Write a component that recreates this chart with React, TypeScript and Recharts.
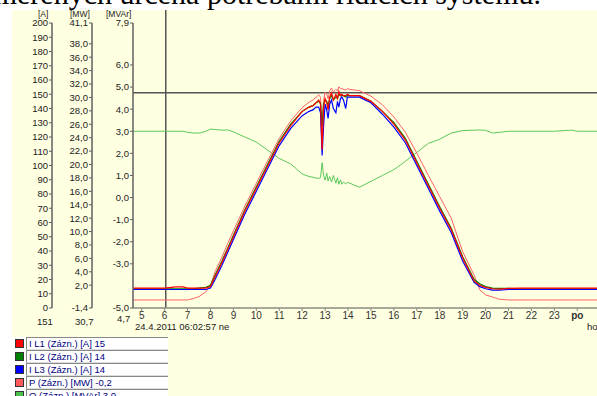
import { LineChart, Line, XAxis, YAxis, ReferenceLine } from 'recharts';

// hodiny (x) a zaznamenane hodnoty
const hours = [4.62, 5, 5.5, 6, 6.5, 6.8, 7, 7.25, 7.5, 7.8, 8, 8.2, 8.5, 8.75, 9, 9.5, 10, 10.5, 11, 11.5, 12, 12.3, 12.47, 12.6, 12.72, 12.8, 12.87, 12.93, 13, 13.07, 13.13, 13.2, 13.28, 13.36, 13.47, 13.54, 13.6, 13.67, 13.73, 13.8, 13.9, 13.97, 14.08, 14.3, 14.5, 15, 15.5, 16, 16.5, 17, 17.5, 18, 18.5, 19, 19.5, 19.75, 20, 20.3, 20.6, 21, 21.5, 22, 23, 23.75, 24, 24.86];
const iL1 = [14, 14, 14, 14, 14.8, 14.8, 14, 14, 14, 14, 15, 22, 32, 41, 50, 68, 84, 100, 116, 128, 138, 141, 142, 144, 146, 143, 111, 140, 147, 144, 139, 148, 151, 146, 150, 147, 152, 149, 150, 149, 149, 150, 149, 149, 149, 145, 138, 129, 118, 102, 86, 70, 55, 35, 19, 16, 14.5, 13.5, 13.3, 13.8, 14, 14, 14, 14, 14, 14];
const iL2 = [13.5, 13.5, 13.5, 13.5, 13.5, 13.5, 13.5, 13.5, 14, 14.5, 16, 23, 33, 42, 51, 69, 85, 101, 117, 129, 138, 141, 142, 144, 145, 144, 128, 143, 146, 145, 142, 147, 149, 146, 148, 147, 150, 149, 149, 149, 148, 149, 149, 149, 149, 145, 138, 130, 119, 103, 87, 71, 56, 36, 20, 17, 15, 14, 13.8, 13.8, 13.5, 13.5, 13.5, 13.5, 13.5, 13.5];
const iL3 = [13, 13, 13, 13, 13, 13, 13, 13, 13, 13, 14, 20, 30, 39, 48, 66, 82, 98, 114, 126, 135, 138, 139, 141, 141, 137, 107, 127, 143, 139, 133, 143, 146, 140, 137, 145, 141, 147, 148, 146, 140, 148, 148, 148, 148, 144, 136, 127, 116, 100, 84, 68, 53, 33, 18, 15, 13.5, 12.5, 12.5, 13, 13, 13, 13, 13, 13, 13];
const pMW = [-0.2, -0.2, -0.2, -0.2, -0.2, -0.2, -0.2, 0, 0.3, 1, 2, 4, 6.2, 8.2, 10.1, 13.8, 17.2, 20.6, 23.9, 26.5, 28.5, 29.3, 29.6, 30, 30.4, 30, 22.2, 29.5, 30.8, 30.5, 29.8, 31, 31.4, 30.8, 31.2, 31, 31.6, 31.3, 31.3, 31.2, 31.1, 31.3, 31.2, 31.1, 31, 30.2, 28.9, 27.1, 24.8, 21.7, 18.4, 15.2, 12, 7, 3.5, 1.3, 0.55, 0.25, -0.1, -0.2, -0.2, -0.2, -0.2, -0.2, -0.2, -0.2];
const qMVAr = [3, 3, 3, 3, 3, 3, 2.95, 2.92, 2.92, 3, 3.1, 3.08, 3.05, 3.06, 2.97, 2.74, 2.51, 2.14, 1.77, 1.52, 1.07, 0.95, 0.92, 0.88, 0.87, 0.9, 1.58, 1, 0.79, 1.11, 0.75, 0.95, 0.7, 1, 0.65, 0.9, 0.6, 0.8, 0.6, 0.7, 0.62, 0.68, 0.65, 0.55, 0.47, 0.73, 1, 1.26, 1.64, 2.04, 2.45, 2.64, 2.92, 3.03, 3.05, 3.06, 3.04, 2.92, 2.95, 3, 3, 3, 3, 3.05, 3, 3];

const hourTicks = [5, 6, 7, 8, 9, 10, 11, 12, 13, 14, 15, 16, 17, 18, 19, 20, 21, 22, 23, 24];
const aTicks = [0, 10, 20, 30, 40, 50, 60, 70, 80, 90, 100, 110, 120, 130, 140, 150, 160, 170, 180, 190, 200];
const mwTicks = [-1.4, 2, 4, 6, 8, 10, 12, 14, 16, 18, 20, 22, 24, 26, 28, 30, 32, 34, 36, 38, 41.1];
const mvarTicks = [-5, -3, -2, -1, 0, 1, 2, 3, 4, 5, 6, 7.9];

const cursorHour = 6.049;
const cursorA = 151;

const legendItems = [
  { color: '#ff0000', text: 'I L1 (Zázn.) [A] 15' },
  { color: '#008000', text: 'I L2 (Zázn.) [A] 14' },
  { color: '#0000ff', text: 'I L3 (Zázn.) [A] 14' },
  { color: '#ff5a5a', text: 'P (Zázn.) [MW] -0,2' },
  { color: '#4cc04c', text: 'Q (Zázn.) [MVAr] 3,0' },
];

const data = hours.map((h, i) => ({
  h,
  l1: iL1[i],
  l2: iL2[i],
  l3: iL3[i],
  p: pMW[i],
  q: qMVAr[i],
}));

// osy se skladaji podle id: ax1 u grafu, ax3 nejdal
const AX_MVAR = 'ax1';
const AX_MW = 'ax2';
const AX_A = 'ax3';

const comma = (v: number) => v.toFixed(1).replace('.', ',');
const axisColor = '#606060';
const tickFont = { fontSize: 9.5, fill: '#222', fontFamily: 'Arial, "Liberation Sans"' };

const HourTick = ({ x, y, payload }: any) => {
  const po = payload.value === 24;
  return (
    <text x={x} y={y + 6} textAnchor="middle" fontSize={10} fontFamily='Arial, "Liberation Sans"' fill="#333" fontWeight={po ? 'bold' : 'normal'}>
      {po ? 'po' : payload.value}
    </text>
  );
};

const small: React.CSSProperties = { position: 'absolute', fontSize: 9.5, lineHeight: '10px', fontFamily: 'Arial, "Liberation Sans"', color: '#222', whiteSpace: 'nowrap' };

export default function App() {
  return (
    <div style={{ position: 'fixed', left: 0, top: 0, width: 597, height: 396, overflow: 'hidden', background: '#fff' }}>
      <div style={{ position: 'absolute', left: 12, top: 10, right: 0, bottom: 0, background: '#ffffe1' }} />
      <div
        style={{
          position: 'absolute',
          right: 56,
          top: -21,
          fontSize: 30,
          lineHeight: '30px',
          fontFamily: '"Liberation Serif", "Times New Roman", serif',
          whiteSpace: 'nowrap',
          color: '#000',
        }}
      >
        měřených určená potřebami řídicích systému.
      </div>

      <div style={{ ...small, fontSize: 8.5, lineHeight: '9px', left: 38, top: 10 }}>[A]</div>
      <div style={{ ...small, fontSize: 8.5, lineHeight: '9px', left: 70, top: 10 }}>[MW]</div>
      <div style={{ ...small, fontSize: 8.5, lineHeight: '9px', left: 106, top: 10 }}>[MVAr]</div>

      <div style={{ position: 'absolute', left: 0, top: 0 }}>
        <LineChart width={597} height={328} data={data} margin={{ top: 23, right: 0, left: 12, bottom: 0 }}>
          <XAxis
            dataKey="h"
            type="number"
            domain={[4.62, 24.86]}
            ticks={hourTicks}
            interval={0}
            allowDataOverflow
            height={20}
            tickSize={3}
            tick={<HourTick />}
            axisLine={{ stroke: '#8c8c80', strokeWidth: 1.5 }}
            tickLine={{ stroke: '#8c8c80' }}
          />
          <YAxis
            yAxisId={AX_MVAR}
            domain={[-5, 7.9]}
            ticks={mvarTicks}
            interval={0}
            width={41}
            tickSize={3}
            tickMargin={1}
            tickFormatter={comma}
            tick={tickFont}
            axisLine={{ stroke: axisColor, strokeWidth: 1.5 }}
            tickLine={{ stroke: axisColor }}
          />
          <YAxis
            yAxisId={AX_MW}
            domain={[-1.4, 41.1]}
            ticks={mwTicks}
            interval={0}
            width={40}
            tickSize={3}
            tickMargin={1}
            tickFormatter={comma}
            tick={tickFont}
            axisLine={{ stroke: axisColor, strokeWidth: 1.5 }}
            tickLine={{ stroke: axisColor }}
          />
          <YAxis
            yAxisId={AX_A}
            domain={[0, 200]}
            ticks={aTicks}
            interval={0}
            width={40}
            tickSize={3}
            tickMargin={1}
            tick={tickFont}
            axisLine={{ stroke: axisColor, strokeWidth: 1.5 }}
            tickLine={{ stroke: axisColor }}
          />
          <ReferenceLine yAxisId={AX_A} y={cursorA} stroke="#555" strokeWidth={1.5} />
          <ReferenceLine
            yAxisId={AX_MVAR}
            segment={[{ x: cursorHour, y: -5 }, { x: cursorHour, y: 8.49 }]}
            ifOverflow="visible"
            stroke="#555"
            strokeWidth={1.5}
          />
          <Line yAxisId={AX_MVAR} dataKey="q" stroke="#5cc85c" strokeWidth={1} dot={false} isAnimationActive={false} />
          <Line yAxisId={AX_MW} dataKey="p" stroke="#ff6464" strokeWidth={1} dot={false} isAnimationActive={false} />
          <Line yAxisId={AX_A} dataKey="l2" stroke="#008000" strokeWidth={1.2} dot={false} isAnimationActive={false} />
          <Line yAxisId={AX_A} dataKey="l3" stroke="#0000ff" strokeWidth={1.2} dot={false} isAnimationActive={false} />
          <Line yAxisId={AX_A} dataKey="l1" stroke="#ff0000" strokeWidth={1.2} dot={false} isAnimationActive={false} />
        </LineChart>
      </div>

      <div style={{ ...small, left: 37, top: 317 }}>151</div>
      <div style={{ ...small, left: 75, top: 317 }}>30,7</div>
      <div style={{ ...small, left: 117, top: 314 }}>4,7</div>
      <div style={{ ...small, left: 135, top: 322 }}>24.4.2011 06:02:57 ne</div>
      <div style={{ ...small, left: 587, top: 322 }}>ho</div>

      <div style={{ position: 'absolute', left: 0, top: 337, width: 167, bottom: 0, background: '#fff' }}>
        {legendItems.map((it, i) => (
          <div key={i} style={{ position: 'absolute', left: 0, top: i * 13, width: 167, height: 13 }}>
            <div style={{ position: 'absolute', left: 15, top: 2, width: 7, height: 7, background: it.color, border: '1px solid #333' }} />
            <div
              style={{
                position: 'absolute',
                left: 26,
                top: 0,
                width: 139,
                height: 11,
                borderTop: '1px solid #888',
                borderLeft: '1px solid #888',
                borderBottom: '1px solid #ddd',
                background: '#fff',
                fontSize: 9.5,
                lineHeight: '11px',
                paddingLeft: 2,
                fontFamily: 'Arial, "Liberation Sans"',
                color: '#000080',
                whiteSpace: 'nowrap',
              }}
            >
              {it.text}
            </div>
          </div>
        ))}
      </div>
    </div>
  );
}
